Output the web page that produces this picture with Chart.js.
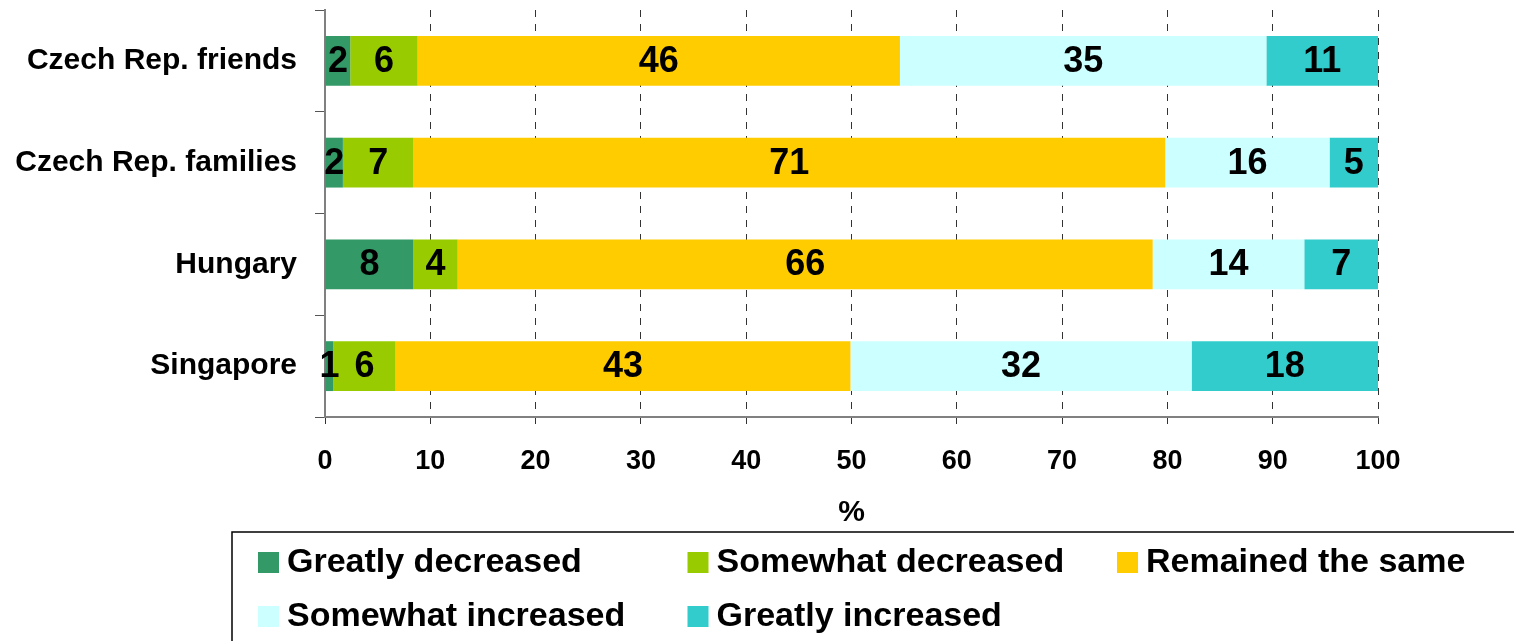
<!DOCTYPE html>
<html>
<head>
<meta charset="utf-8">
<script src="https://cdn.jsdelivr.net/npm/chart.js@4.4.1/dist/chart.umd.min.js"></script>
<style>
    html, body { margin: 0; padding: 0; background: #fff; overflow: hidden; }
    #wrap { width: 1514px; height: 641px; }
</style>
</head>
<body>
<div id="wrap"><canvas id="change-chart" width="1514" height="641"></canvas></div>
<script>
const groups = ['Czech Rep. friends', 'Czech Rep. families', 'Hungary', 'Singapore'];

const greatlyDecreased  = [2.4, 1.7, 8.4, 0.8];
const somewhatDecreased = [6.4, 6.7, 4.2, 5.9];
const remainedSame      = [45.8, 71.4, 66.0, 43.2];
const somewhatIncreased = [34.8, 15.6, 14.4, 32.4];
const greatlyIncreased  = [10.6, 4.6, 7.0, 17.7];

const axisTicks = [0, 10, 20, 30, 40, 50, 60, 70, 80, 90, 100];

const FONT = '"Liberation Sans", Arial, sans-serif';

// value printed in the middle of every segment
const segmentLabels = {
    id: 'segmentLabels',
    afterDatasetsDraw(chart) {
        const ctx = chart.ctx;
        ctx.save();
        ctx.font = 'bold 36px ' + FONT;
        ctx.fillStyle = '#000';
        ctx.textAlign = 'center';
        ctx.textBaseline = 'middle';
        chart.data.datasets.forEach((ds, i) => {
            chart.getDatasetMeta(i).data.forEach((bar, j) => {
                const p = bar.getProps(['x', 'y', 'base'], true);
                ctx.fillText(String(Math.round(ds.data[j])), (p.x + p.base) / 2, p.y + 1);
            });
        });
        ctx.restore();
    }
};

// framed legend laid out in three columns under the axis
const legendBox = {
    id: 'legendBox',
    afterDraw(chart) {
        const ctx = chart.ctx;
        const top = chart.scales.x.bottom + 1;
        const left = 232;
        ctx.save();
        ctx.strokeStyle = '#000';
        ctx.lineWidth = 1.5;
        ctx.strokeRect(left, top, 1400, 200);
        ctx.font = 'bold 34px ' + FONT;
        ctx.textBaseline = 'middle';
        ctx.textAlign = 'left';
        chart.data.datasets.forEach((ds, i) => {
            const col = i % 3, row = Math.floor(i / 3);
            const bx = left + 26 + col * 429.5;
            const by = top + 20 + row * 54;
            ctx.fillStyle = ds.backgroundColor;
            ctx.fillRect(bx, by, 21, 21);
            ctx.fillStyle = '#000';
            ctx.fillText(ds.label, bx + 29, by + 11);
        });
        ctx.restore();
    }
};

const ctx = document.getElementById('change-chart').getContext('2d');

new Chart(ctx, {
    type: 'bar',
    data: {
        labels: groups,
        datasets: [
            { label: 'Greatly decreased',  data: greatlyDecreased,  backgroundColor: '#339966' },
            { label: 'Somewhat decreased', data: somewhatDecreased, backgroundColor: '#99CC00' },
            { label: 'Remained the same',  data: remainedSame,      backgroundColor: '#FFCC00' },
            { label: 'Somewhat increased', data: somewhatIncreased, backgroundColor: '#CCFFFF' },
            { label: 'Greatly increased',  data: greatlyIncreased,  backgroundColor: '#33CCCC' }
        ]
    },
    options: {
        indexAxis: 'y',
        responsive: false,
        animation: false,
        datasets: {
            bar: { barPercentage: 0.49, categoryPercentage: 1, borderWidth: 0 }
        },
        layout: { padding: { top: 10, right: 136, bottom: 110, left: 0 } },
        plugins: {
            legend: { display: false },
            tooltip: { enabled: false }
        },
        scales: {
            x: {
                stacked: true,
                min: 0,
                max: 100,
                afterBuildTicks: scale => { scale.ticks = axisTicks.map(v => ({ value: v })); },
                afterFit: scale => { scale.height = 114; },
                grid: {
                    color: '#333',
                    lineWidth: 1,
                    tickLength: 7,
                    tickColor: '#333',
                    tickBorderDash: []
                },
                border: { display: true, color: '#808080', width: 2, dash: [7, 7] },
                ticks: {
                    color: '#000',
                    padding: 21,
                    font: { family: FONT, size: 27, weight: 'bold' }
                },
                title: {
                    display: true,
                    text: '%',
                    color: '#000',
                    padding: { top: 0, bottom: 0 },
                    font: { family: FONT, size: 30, weight: 'bold' }
                }
            },
            y: {
                stacked: true,
                afterFit: scale => {
                    scale.width = 325;
                    scale.paddingTop = 0;
                    scale.paddingBottom = 0;
                },
                grid: {
                    drawOnChartArea: false,
                    tickLength: 10,
                    tickColor: '#555',
                    offset: true
                },
                border: { display: true, color: '#808080', width: 2 },
                ticks: {
                    color: '#000',
                    padding: 18,
                    font: { family: FONT, size: 30, weight: 'bold' }
                }
            }
        }
    },
    plugins: [segmentLabels, legendBox]
});
</script>
</body>
</html>
